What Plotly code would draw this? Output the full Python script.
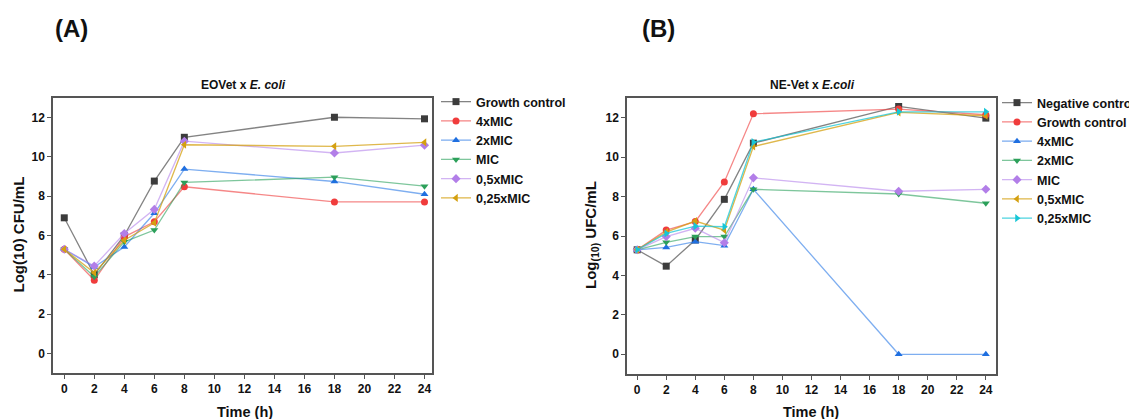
import plotly.graph_objects as go

# The page body has an 8 px margin, so the figure is drawn 8 px in from the corner.
# The figure is made a little wider than the window; the excess is simply outside the view.
OFF = 8
W, H = 1160, 419 - OFF

# ---------------- data ----------------
time_h = [0, 2, 4, 6, 8, 18, 24]

# Panel A: EOVet x E. coli
a_names = ["Growth control", "4xMIC", "2xMIC", "MIC", "0,5xMIC", "0,25xMIC"]
a_growth = [6.9, 4.0, 6.0, 8.77, 11.0, 12.02, 11.94]
a_4x = [5.3, 3.72, 5.93, 6.7, 8.48, 7.71, 7.71]
a_2x = [5.3, 4.4, 5.42, 7.13, 9.38, 8.75, 8.1]
a_mic = [5.3, 3.9, 5.68, 6.28, 8.7, 8.97, 8.51]
a_05x = [5.3, 4.45, 6.1, 7.33, 10.8, 10.2, 10.6]
a_025x = [5.3, 4.1, 5.76, 6.65, 10.62, 10.54, 10.74]

# Panel B: NE-Vet x E.coli
b_names = ["Negative control", "Growth control", "4xMIC", "2xMIC", "MIC", "0,5xMIC", "0,25xMIC"]
b_neg = [5.3, 4.47, 5.8, 7.86, 10.71, 12.57, 11.98]
b_growth = [5.3, 6.3, 6.73, 8.74, 12.2, 12.44, 12.15]
b_4x = [5.3, 5.42, 5.71, 5.51, 8.37, 0.0, 0.0]
b_2x = [5.3, 5.68, 5.97, 5.97, 8.37, 8.13, 7.66]
b_mic = [5.3, 5.97, 6.39, 5.66, 8.95, 8.27, 8.37]
b_05x = [5.3, 6.2, 6.76, 6.3, 10.54, 12.27, 12.1]
b_025x = [5.3, 6.13, 6.5, 6.47, 10.76, 12.3, 12.3]

x_ticks = [0, 2, 4, 6, 8, 10, 12, 14, 16, 18, 20, 22, 24]
y_ticks = [0, 2, 4, 6, 8, 10, 12]

# ---------------- styles ----------------
GRAY = ("#3c3c3c", "rgba(90,90,90,0.75)")
RED = ("#f03c3c", "rgba(240,70,70,0.65)")
BLUE = ("#1f6fe0", "rgba(40,120,230,0.6)")
GREEN = ("#2ca05a", "rgba(40,160,90,0.6)")
PURPLE = ("#b27ee8", "rgba(180,130,235,0.6)")
GOLD = ("#d4a010", "rgba(212,160,16,0.75)")
CYAN = ("#17c6d6", "rgba(23,198,214,0.75)")

FONT = "Liberation Sans, Arial, sans-serif"


def px_x(p):
    return (p - OFF) / W


def px_y(p):
    return 1 - (p - OFF) / H


fig = go.Figure()

a_series = [a_growth, a_4x, a_2x, a_mic, a_05x, a_025x]
a_styles = [(GRAY, "square"), (RED, "circle"), (BLUE, "triangle-up"),
            (GREEN, "triangle-down"), (PURPLE, "diamond"), (GOLD, "triangle-left")]
for name, ys, (col, sym) in zip(a_names, a_series, a_styles):
    fig.add_trace(go.Scatter(
        x=time_h, y=ys, name=name, mode="lines+markers",
        line=dict(color=col[1], width=1.3),
        marker=dict(color=col[0], symbol=sym, size=7),
        xaxis="x", yaxis="y", legend="legend"))

b_series = [b_neg, b_growth, b_4x, b_2x, b_mic, b_05x, b_025x]
b_styles = [(GRAY, "square"), (RED, "circle"), (BLUE, "triangle-up"),
            (GREEN, "triangle-down"), (PURPLE, "diamond"), (GOLD, "triangle-left"),
            (CYAN, "triangle-right")]
for name, ys, (col, sym) in zip(b_names, b_series, b_styles):
    fig.add_trace(go.Scatter(
        x=time_h, y=ys, name=name, mode="lines+markers",
        line=dict(color=col[1], width=1.3),
        marker=dict(color=col[0], symbol=sym, size=7),
        xaxis="x2", yaxis="y2", legend="legend2"))

axis_common = dict(
    showline=True, mirror=True, linecolor="#555555", linewidth=1.5,
    ticks="outside", ticklen=4, tickcolor="#555555", tickwidth=1,
    showgrid=False, zeroline=False,
    tickfont=dict(family=FONT, size=12, color="#111111", weight="bold"),
)

legend_font = dict(family=FONT, size=12.5, color="#111111", weight="bold")

fig.update_layout(
    width=W, height=H,
    margin=dict(l=0, r=0, t=0, b=0),
    paper_bgcolor="white", plot_bgcolor="white",
    font=dict(family=FONT, color="#111111"),
    xaxis=dict(domain=[px_x(53), px_x(432)], range=[-0.75, 24.5],
               tickvals=x_ticks, anchor="y", **axis_common),
    yaxis=dict(domain=[px_y(373), px_y(98)], range=[-1.0, 13.0], tickvals=y_ticks,
               anchor="x", **axis_common),
    xaxis2=dict(domain=[px_x(627), px_x(996)], range=[-0.7, 24.7],
                tickvals=x_ticks, anchor="y2", **axis_common),
    yaxis2=dict(domain=[px_y(374), px_y(98)], range=[-1.0, 13.0],
                tickvals=y_ticks, anchor="x2", **axis_common),
    legend=dict(x=px_x(436), y=px_y(87), xanchor="left", yanchor="top",
                bgcolor="rgba(0,0,0,0)", borderwidth=0, font=legend_font,
                itemwidth=30, tracegroupgap=0),
    legend2=dict(x=px_x(997), y=px_y(88), xanchor="left", yanchor="top",
                 bgcolor="rgba(0,0,0,0)", borderwidth=0, font=legend_font,
                 itemwidth=30, tracegroupgap=0),
    showlegend=True,
)

ann_font = dict(family=FONT, color="#111111")
annotations = [
    dict(text="<b>(A)</b>", x=px_x(71.5), y=px_y(28), font=dict(size=24, **ann_font)),
    dict(text="<b>(B)</b>", x=px_x(658), y=px_y(28), font=dict(size=24, **ann_font)),
    dict(text="<b>EOVet x <i>E. coli</i></b>", x=px_x(243), y=px_y(85),
         font=dict(size=12, **ann_font)),
    dict(text="<b>NE-Vet x <i>E.coli</i></b>", x=px_x(812), y=px_y(85),
         font=dict(size=12, **ann_font)),
    dict(text="<b>Log(10) CFU/mL</b>", x=px_x(17.5), y=px_y(235), textangle=-90,
         font=dict(size=15, **ann_font)),
    dict(text="<b>Log<sub>(10)</sub> UFC/mL</b>", x=px_x(591), y=px_y(235), textangle=-90,
         font=dict(size=15, **ann_font)),
    dict(text="<b>Time (h)</b>", x=px_x(244.5), y=px_y(412), font=dict(size=14.5, **ann_font)),
    dict(text="<b>Time (h)</b>", x=px_x(811), y=px_y(412), font=dict(size=14.5, **ann_font)),
]
for a in annotations:
    a.update(xref="paper", yref="paper", showarrow=False, xanchor="center", yanchor="middle")
fig.update_layout(annotations=annotations)

fig.write_html("out.html")
